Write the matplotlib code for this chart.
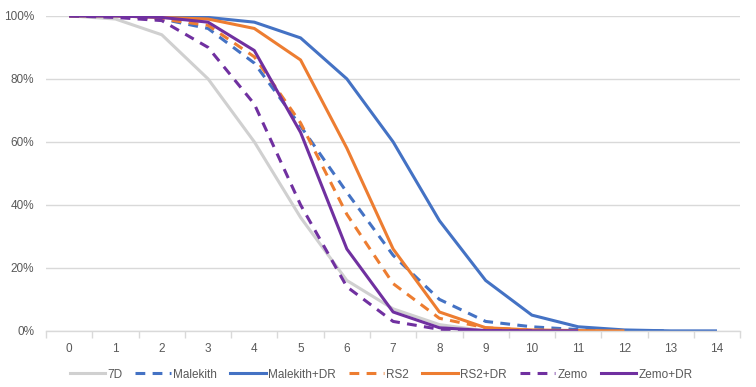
import numpy as np
import matplotlib.pyplot as plt
from matplotlib.lines import Line2D

nan = np.nan
x = list(range(15))
x_labels = [str(i) for i in x]

# survival fraction per series
d7 = [1.0, 0.99, 0.94, 0.80, 0.60, 0.36, 0.16, 0.07, 0.02, 0.0, 0.0, nan, nan, nan, nan]
malekith = [1.0, 1.0, 0.99, 0.96, 0.85, 0.65, 0.44, 0.24, 0.10, 0.03, 0.013, 0.004, 0.001, 0.0, nan]
malekith_dr = [1.0, 1.0, 1.0, 0.995, 0.98, 0.93, 0.80, 0.60, 0.35, 0.16, 0.05, 0.013, 0.003, 0.0, 0.0]
rs2 = [1.0, 1.0, 0.99, 0.97, 0.87, 0.66, 0.37, 0.15, 0.04, 0.01, 0.002, 0.0, nan, nan, nan]
rs2_dr = [1.0, 1.0, 0.995, 0.99, 0.96, 0.86, 0.58, 0.26, 0.06, 0.01, 0.003, 0.001, 0.0, nan, nan]
zemo = [1.0, 0.995, 0.985, 0.90, 0.72, 0.40, 0.14, 0.03, 0.005, 0.0, 0.0, nan, nan, nan, nan]
zemo_dr = [1.0, 1.0, 0.995, 0.98, 0.89, 0.63, 0.26, 0.06, 0.01, 0.001, 0.0, 0.0, nan, nan, nan]

names = ['7D', 'Malekith', 'Malekith+DR', 'RS2', 'RS2+DR', 'Zemo', 'Zemo+DR']
series = [d7, malekith, malekith_dr, rs2, rs2_dr, zemo, zemo_dr]
colors = ['#D0D0D0', '#4472C4', '#4472C4', '#ED7D31', '#ED7D31', '#7030A0', '#7030A0']
dashed = [False, True, False, True, False, True, False]

plt.rcParams['font.family'] = ['Liberation Sans', 'DejaVu Sans']

fig = plt.figure(figsize=(7.56, 3.87), dpi=100)
ax = fig.add_axes([0.061, 0.145, 0.918, 0.814])

lw = 2.2
handles = []
for name, ys, c, dsh in zip(names, series, colors, dashed):
    ls = (0, (3.2, 2.4)) if dsh else '-'
    ax.plot(x, ys, color=c, lw=lw, linestyle=ls, solid_capstyle='butt',
            dash_capstyle='butt', label=name)
    handles.append(Line2D([], [], color=c, lw=lw, linestyle=ls, dash_capstyle='butt'))

ax.set_xlim(-0.5, 14.5)
ax.set_ylim(0, 1.0)
ax.set_yticks(np.arange(0, 1.01, 0.2))
ax.set_yticklabels([f'{int(round(v * 100))}%' for v in np.arange(0, 1.01, 0.2)])
ax.yaxis.grid(True, color='#D9D9D9', lw=1)
ax.set_axisbelow(True)

ax.set_xticks(x)
ax.set_xticklabels(x_labels)
ax.set_xticks(np.arange(-0.5, 15, 1), minor=True)
ax.tick_params(axis='x', which='major', length=0, pad=9, labelsize=8.5, labelcolor='#595959')
ax.tick_params(axis='x', which='minor', length=5, color='#D9D9D9', width=1)
ax.tick_params(axis='y', length=0, pad=8.5, labelsize=8.5, labelcolor='#595959')

for s in ['top', 'right', 'left']:
    ax.spines[s].set_visible(False)
ax.spines['bottom'].set_color('#D9D9D9')
ax.spines['bottom'].set_linewidth(1)

fig.legend(handles, names, loc='center', bbox_to_anchor=(0.504, 0.032), ncol=7,
           frameon=False, fontsize=8.5, handlelength=3.0, columnspacing=1.1,
           handletextpad=0.2, labelcolor='#595959')

fig.savefig('out.png', dpi=100)
